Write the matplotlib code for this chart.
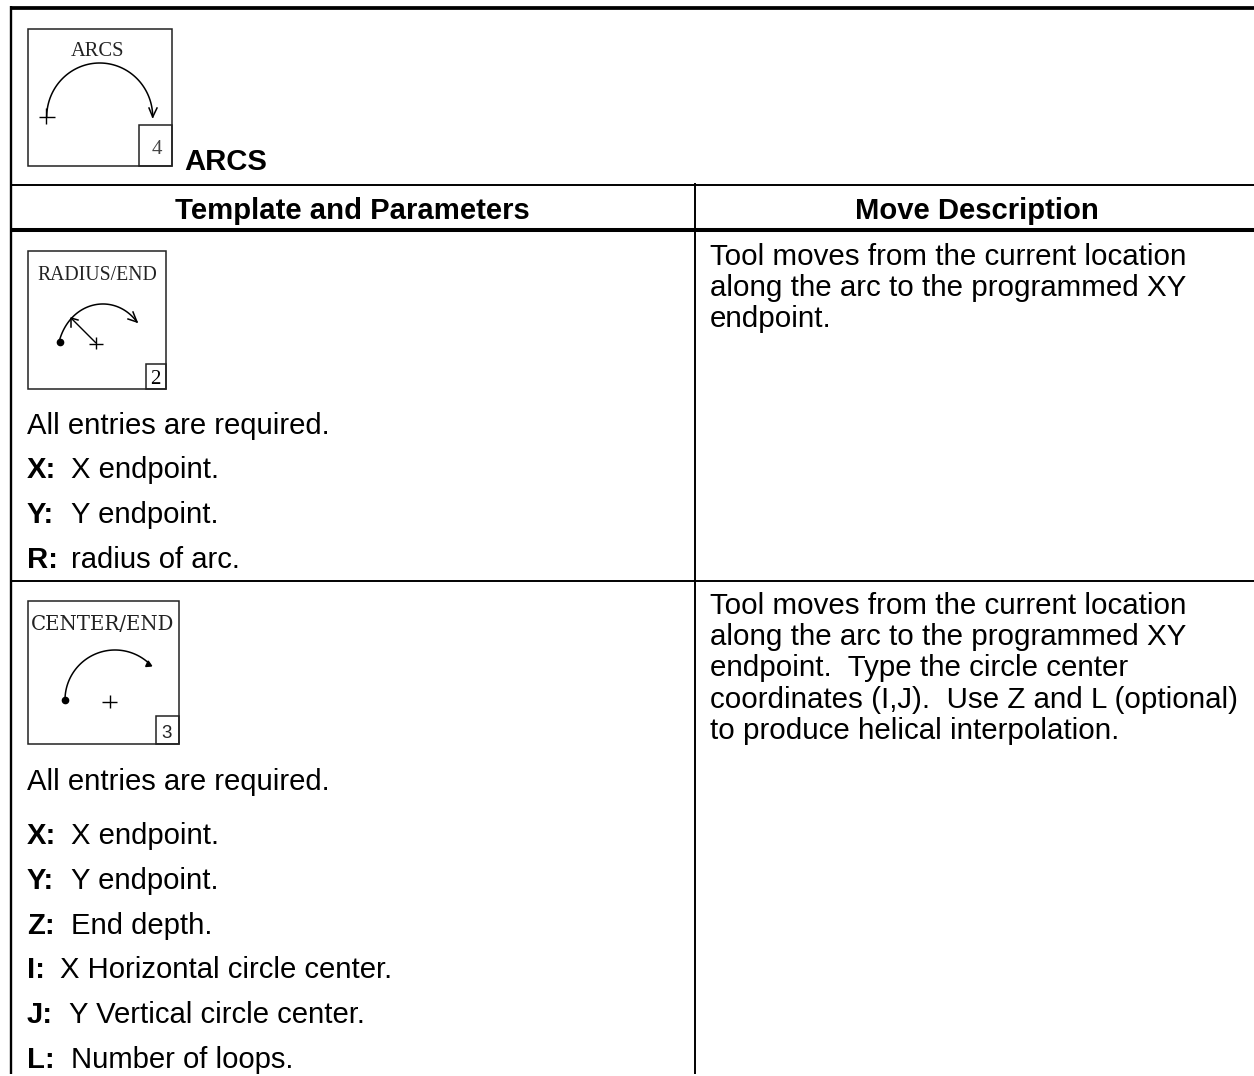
import matplotlib
matplotlib.use("Agg")
import numpy as np
import matplotlib.pyplot as plt
from matplotlib.patches import Rectangle

W, H = 1254, 1076

title = "ARCS"
headers = ["Template and Parameters", "Move Description"]

first_intro = "All entries are required."
first_params = [("X:", "X endpoint.", 71, 470), ("Y:", "Y endpoint.", 71, 515), ("R:", "radius of arc.", 71, 560)]
first_desc = ["Tool moves from the current location", "along the arc to the programmed XY", "endpoint."]

second_intro = "All entries are required."
second_params = [("X:", "X endpoint.", 71, 836), ("Y:", "Y endpoint.", 71, 881), ("Z:", "End depth.", 71, 926),
                 ("I:", "X Horizontal circle center.", 60, 970), ("J:", "Y Vertical circle center.", 69, 1015),
                 ("L:", "Number of loops.", 71, 1060)]
second_desc = ["Tool moves from the current location", "along the arc to the programmed XY",
               "endpoint.  Type the circle center", "coordinates (I,J).  Use Z and L (optional)",
               "to produce helical interpolation."]

fig = plt.figure(figsize=(W / 100, H / 100), dpi=100)
ax = fig.add_axes([0, 0, 1, 1])
ax.set_xlim(0, W)
ax.set_ylim(H, 0)
ax.axis("off")

SANS = "Liberation Sans"
SERIF = "Liberation Serif"
FS = 21.1
FS_RIGHT = 21.25


def line(x0, y0, x1, y1, lw=1.0):
    ax.plot([x0, x1], [y0, y1], color="black", lw=lw, solid_capstyle="butt")


def arc(cx, cy, rx, ry, a0, a1, lw=1.1):
    t = np.radians(np.linspace(a0, a1, 80))
    ax.plot(cx + rx * np.cos(t), cy - ry * np.sin(t), color="black", lw=lw)


def bezier(p0, p1, p2, p3, lw=1.1):
    t = np.linspace(0, 1, 60)
    x = (1 - t) ** 3 * p0[0] + 3 * (1 - t) ** 2 * t * p1[0] + 3 * (1 - t) * t ** 2 * p2[0] + t ** 3 * p3[0]
    y = (1 - t) ** 3 * p0[1] + 3 * (1 - t) ** 2 * t * p1[1] + 3 * (1 - t) * t ** 2 * p2[1] + t ** 3 * p3[1]
    ax.plot(x, y, color="black", lw=lw)


def box(x0, y0, x1, y1, lw=1.1):
    ax.add_patch(Rectangle((x0, y0), x1 - x0, y1 - y0, fill=False, ec="#222222", lw=lw))


def arrow(x, y, x0, y0, x1, y1):
    ax.plot([x0, x, x1], [y0, y, y1], color="black", lw=1.1)


# table rules
line(10, 7.5, W, 7.5, 2.7)
line(11, 6, 11, H - 2, 1.7)
line(11, 184.5, W, 184.5, 1.4)
line(11, 229.7, W, 229.7, 2.9)
line(11, 580.5, W, 580.5, 1.4)
line(694.5, 183, 694.5, H - 2, 1.4)

# top icon
box(28, 29, 172, 166)
box(139, 125, 172, 166)
ax.text(98, 52, "ARCS", family=SERIF, fontsize=14.8, ha="center", va="center", color="#222222")
ax.text(156.5, 150, "4", family=SERIF, fontsize=15, ha="center", va="center", color="#444444")
arc(99.7, 117, 53, 54, 180, 0)
arrow(152.7, 117, 149, 108, 157, 108)
line(39, 117, 55, 117)
line(45.5, 108, 45.5, 124)
ax.text(184, 162.5, title, family=SANS, fontsize=FS, weight="bold", ha="left", va="center")

# headers
ax.text(352.5, 211, headers[0], family=SANS, fontsize=FS, weight="bold", ha="center", va="center")
ax.text(977, 211, headers[1], family=SANS, fontsize=FS, weight="bold", ha="center", va="center")

# radius icon
box(28, 251, 166, 389)
box(146, 364, 166, 389)
ax.text(97.5, 275, "RADIUS/END", family=SERIF, fontsize=14.2, ha="center", va="center", color="#222222")
ax.text(155, 379, "2", family=SERIF, fontsize=15, ha="center", va="center")
bezier((59, 342), (70, 300), (115, 292), (137, 322))
arrow(137, 322, 128, 319, 133, 312)
line(96, 343, 71, 318)
arrow(71, 318, 71, 327, 78, 320)
ax.plot([59.5], [342], "o", color="black", ms=4.5)
line(89, 343.5, 103, 343.5)
line(96, 337, 96, 349)

# center icon
box(28, 601, 179, 744)
box(156, 716, 179, 744)
ax.text(103, 624, "CENTER/END", family="DejaVu Serif", fontsize=14.2, ha="center", va="center", color="#222222")
ax.text(167, 734, "3", family=SANS, fontsize=13.5, ha="center", va="center", color="#222222")
arc(115, 700, 50, 50, 180, 47)
ax.plot([147.5], [663.5], marker=(3, 0, -115), color="black", ms=5)
ax.plot([65], [700], "o", color="black", ms=4.5)
line(102, 702, 117, 702)
line(110, 695, 110, 708)

# left column text
ax.text(27, 426, first_intro, family=SANS, fontsize=FS, ha="left", va="center")
for key, text, x, y in first_params:
    ax.text(27, y, key, family=SANS, fontsize=FS, weight="bold", ha="left", va="center")
    ax.text(x, y, text, family=SANS, fontsize=FS, ha="left", va="center")

ax.text(27, 782, second_intro, family=SANS, fontsize=FS, ha="left", va="center")
for key, text, x, y in second_params:
    ax.text(27, y, key, family=SANS, fontsize=FS, weight="bold", ha="left", va="center")
    ax.text(x, y, text, family=SANS, fontsize=FS, ha="left", va="center")

# right column text
for i, s in enumerate(first_desc):
    ax.text(710, 257 + i * 31.2, s, family=SANS, fontsize=FS_RIGHT, ha="left", va="center")
for i, s in enumerate(second_desc):
    ax.text(710, 606 + i * 31.2, s, family=SANS, fontsize=FS_RIGHT, ha="left", va="center")

fig.savefig("out.png", dpi=100, facecolor="white")
